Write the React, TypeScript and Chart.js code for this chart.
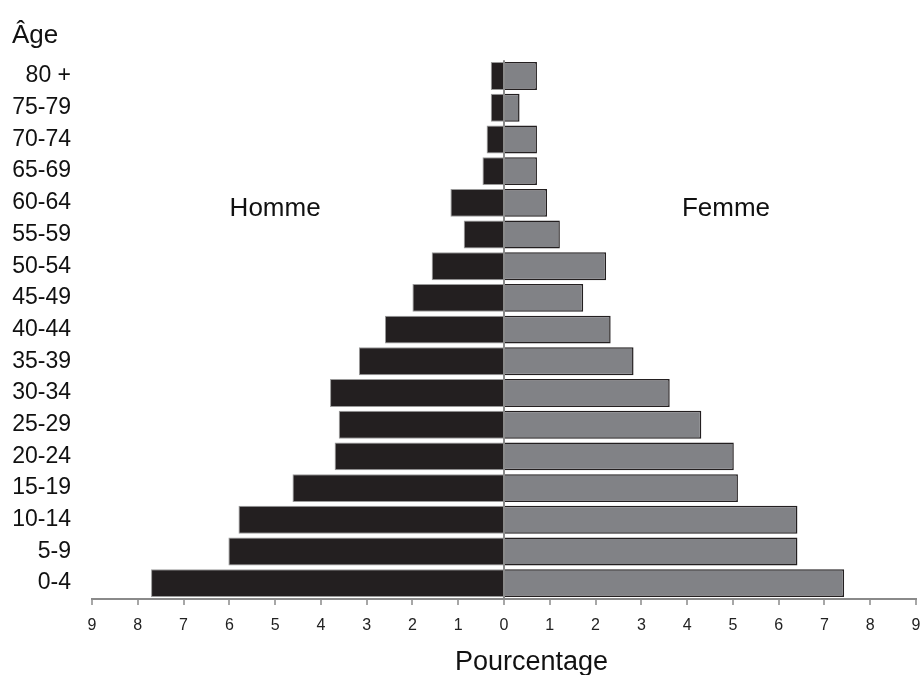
import React, { useEffect, useRef } from 'react';
import { Chart, registerables } from 'chart.js';

Chart.register(...registerables);

const ageGroups = ['80 +', '75-79', '70-74', '65-69', '60-64', '55-59', '50-54', '45-49', '40-44', '35-39', '30-34', '25-29', '20-24', '15-19', '10-14', '5-9', '0-4'];
const hommeValues = [0.29, 0.29, 0.38, 0.47, 1.17, 0.88, 1.58, 2.0, 2.6, 3.17, 3.8, 3.61, 3.7, 4.62, 5.8, 6.02, 7.71];
const femmeValues = [0.72, 0.34, 0.72, 0.72, 0.94, 1.22, 2.23, 1.73, 2.33, 2.83, 3.62, 4.31, 5.02, 5.11, 6.41, 6.41, 7.43];
const axisMin = -9;
const axisMax = 9;
const yTitle = 'Âge';
const xTitle = 'Pourcentage';
const hommeLabel = 'Homme';
const femmeLabel = 'Femme';

const FONT = "'Liberation Sans', Arial, sans-serif";

const textPlugin = {
  id: 'pyramidText',
  afterDraw(chart: any) {
    const { ctx, scales } = chart;
    const x = scales.x;
    const y = scales.y;
    const i = ageGroups.indexOf('60-64');
    const yA = y.getPixelForValue(i);
    const yB = y.getPixelForValue(i + 1);
    const yMid = yA + (yB - yA) * 0.2;
    ctx.save();
    ctx.fillStyle = '#111';
    ctx.textAlign = 'center';
    ctx.textBaseline = 'middle';
    ctx.font = `26px ${FONT}`;
    ctx.fillText(hommeLabel, x.getPixelForValue(-5), yMid);
    ctx.fillText(femmeLabel, x.getPixelForValue(4.85), yMid);
    ctx.font = `27px ${FONT}`;
    ctx.fillText(xTitle, x.getPixelForValue(0.6), chart.height - 12);
    ctx.restore();
  },
};

export default function App() {
  const ref = useRef<HTMLCanvasElement | null>(null);

  useEffect(() => {
    if (!ref.current) return;
    const chart = new Chart(ref.current, {
      type: 'bar',
      data: {
        labels: ageGroups,
        datasets: [
          {
            label: hommeLabel,
            data: hommeValues.map((v) => -v),
            backgroundColor: '#231f20',
            borderColor: '#9a9a9a',
            borderWidth: 1,
            categoryPercentage: 1,
            barPercentage: 0.88,
          },
          {
            label: femmeLabel,
            data: femmeValues,
            backgroundColor: '#818286',
            borderColor: '#231f20',
            borderWidth: 1.5,
            categoryPercentage: 1,
            barPercentage: 0.88,
          },
        ],
      },
      options: {
        indexAxis: 'y',
        animation: false,
        responsive: true,
        maintainAspectRatio: false,
        layout: { padding: { left: 12, right: 6, top: 0, bottom: 0 } },
        plugins: {
          legend: { display: false },
          tooltip: { enabled: false },
          title: {
            display: true,
            text: yTitle,
            align: 'start',
            color: '#111',
            font: { family: FONT, size: 26, weight: 'normal' },
            padding: { top: 20, bottom: 9 },
          },
        },
        scales: {
          x: {
            type: 'linear',
            stacked: true,
            min: axisMin,
            max: axisMax,
            z: 1,
            ticks: {
              stepSize: 1,
              color: '#222',
              padding: 11,
              font: { family: FONT, size: 16 },
              callback: (v: any) => String(Math.abs(Number(v))),
            },
            grid: {
              display: true,
              drawOnChartArea: true,
              color: (c: any) => (c.tick && c.tick.value === 0 ? '#8a8a8a' : 'rgba(0,0,0,0)'),
              lineWidth: 2,
              tickColor: '#8a8a8a',
              tickLength: 6,
              tickWidth: 1.5,
            },
            border: { display: true, color: '#8a8a8a', width: 2 },
            afterFit: (s: any) => {
              s.height = 76;
              s.paddingLeft = 0;
              s.paddingRight = 0;
            },
          },
          y: {
            type: 'category',
            stacked: true,
            offset: true,
            ticks: {
              color: '#111',
              padding: 21,
              font: { family: FONT, size: 23 },
            },
            grid: { display: false, drawTicks: false },
            border: { display: false },
            afterFit: (s: any) => {
              s.width = 80;
            },
          },
        },
      },
      plugins: [textPlugin],
    });
    return () => chart.destroy();
  }, []);

  return (
    <div style={{ position: 'absolute', left: 0, top: 0, width: 922, height: 675, background: '#fff' }}>
      <canvas ref={ref} />
    </div>
  );
}
